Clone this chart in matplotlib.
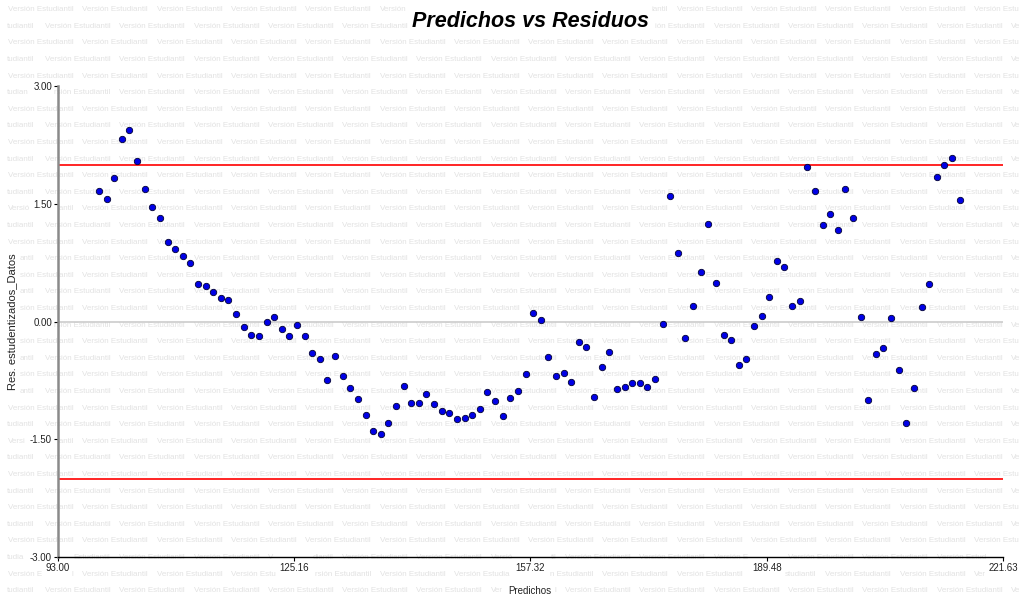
import matplotlib
matplotlib.use("Agg")
import matplotlib.pyplot as plt
from matplotlib.ticker import FixedLocator, FixedFormatter

# ---- data ----
predichos = [
    98.65, 99.68, 100.72, 101.76, 102.79, 103.83, 104.86, 105.90, 106.94, 107.97,
    109.01, 110.05, 111.08, 112.12, 113.15, 114.19, 115.23, 116.26, 117.30, 118.33,
    119.37, 120.41, 121.44, 122.48, 123.51, 124.55, 125.59, 126.62, 127.66, 128.70,
    129.73, 130.77, 131.80, 132.84, 133.88, 134.91, 135.95, 136.98, 138.02, 139.06,
    140.09, 141.13, 142.17, 143.20, 144.24, 145.27, 146.31, 147.35, 148.38, 149.42,
    150.46, 151.49, 152.53, 153.56, 154.60, 155.64, 156.67, 157.71, 158.74, 159.78,
    160.82, 161.85, 162.89, 163.93, 164.96, 166.00, 167.03, 168.07, 169.11, 170.14,
    171.18, 172.22, 173.25, 174.29, 175.32, 176.36, 177.40, 178.43, 179.47, 180.51,
    181.54, 182.58, 183.61, 184.65, 185.69, 186.72, 187.76, 188.79, 189.83, 190.87,
    191.90, 192.94, 193.98, 195.01, 196.05, 197.08, 198.12, 199.16, 200.19, 201.23,
    202.27, 203.30, 204.34, 205.37, 206.41, 207.45, 208.48, 209.52, 210.56, 211.59,
    212.63, 213.66, 214.70, 215.74,
]
residuos = [
    1.659, 1.561, 1.832, 2.325, 2.439, 2.041, 1.692, 1.459, 1.322, 1.013,
    0.927, 0.834, 0.749, 0.478, 0.456, 0.376, 0.303, 0.278, 0.096, -0.066,
    -0.168, -0.181, -0.006, 0.057, -0.096, -0.181, -0.045, -0.181, -0.405, -0.478,
    -0.741, -0.439, -0.690, -0.851, -0.987, -1.187, -1.395, -1.433, -1.289, -1.076,
    -0.825, -1.038, -1.038, -0.927, -1.051, -1.136, -1.162, -1.238, -1.223, -1.191,
    -1.115, -0.902, -1.013, -1.200, -0.977, -0.888, -0.665, 0.104, 0.019, -0.452,
    -0.690, -0.652, -0.775, -0.257, -0.329, -0.962, -0.576, -0.392, -0.864, -0.831,
    -0.787, -0.780, -0.838, -0.729, -0.032, 1.595, 0.876, -0.206, 0.201, 0.627,
    1.246, 0.490, -0.168, -0.232, -0.554, -0.478, -0.057, 0.070, 0.316, 0.775,
    0.698, 0.201, 0.265, 1.968, 1.659, 1.233, 1.373, 1.162, 1.684, 1.322,
    0.057, -1.000, -0.418, -0.341, 0.041, -0.614, -1.289, -0.851, 0.181, 0.478,
    1.841, 1.994, 2.083, 1.548,
]
x_ticks = [93.00, 125.16, 157.32, 189.48, 221.63]
x_ticklabels = ["93.00", "125.16", "157.32", "189.48", "221.63"]
y_ticks = [-3.0, -1.5, 0.0, 1.5, 3.0]
y_ticklabels = ["-3.00", "-1.50", "0.00", "1.50", "3.00"]
ref_lines = [2.0, -2.0]
title = "Predichos vs Residuos"
xlabel = "Predichos"
ylabel = "Res. estudentizados_Datos"
watermark = "Versión Estudiantil"
watermark_tail = "tudiantil"

W, H = 1023, 609
FONT = ["Liberation Sans", "DejaVu Sans"]
fig = plt.figure(figsize=(W / 100, H / 100), dpi=100)
fig.patch.set_facecolor("white")

# ---- axes ----
left, right, top, bottom = 57.5, 1003, 86, 557
ax = fig.add_axes([left / W, 1 - bottom / H, (right - left) / W, (bottom - top) / H])
ax.patch.set_alpha(0)
ax.set_zorder(1)
ax.set_xlim(x_ticks[0], x_ticks[-1])
ax.set_ylim(y_ticks[0], y_ticks[-1])

ax.axhline(0, color="#c8c8c8", lw=1.1, zorder=1)
for v in ref_lines:
    ax.axhline(v, color="#ff0000", lw=1.2, zorder=2)

ax.plot(predichos, residuos, linestyle="none", marker="o", markersize=4.6,
        markerfacecolor="#0000e6", markeredgecolor="#000033", markeredgewidth=0.6,
        zorder=3)

for s in ["top", "right"]:
    ax.spines[s].set_visible(False)
ax.spines["left"].set_color("#8a8a8a")
ax.spines["left"].set_linewidth(1.8)
ax.spines["bottom"].set_color("#000000")
ax.spines["bottom"].set_linewidth(1.0)

ax.xaxis.set_major_locator(FixedLocator(x_ticks))
ax.xaxis.set_major_formatter(FixedFormatter(x_ticklabels))
ax.yaxis.set_major_locator(FixedLocator(y_ticks))
ax.yaxis.set_major_formatter(FixedFormatter(y_ticklabels))
ax.tick_params(axis="both", labelsize=7, length=3, width=0.8, pad=1,
               colors="#000000", labelcolor="#222222")
for lab in ax.get_xticklabels() + ax.get_yticklabels():
    lab.set_family(FONT)

ax.set_xlabel(xlabel, fontsize=7, family=FONT, labelpad=10, color="#222222")
ax.set_ylabel(ylabel, fontsize=8, family=FONT, labelpad=9, color="#222222")

ttl = fig.text(530 / W, 1 - 21.5 / H, title, fontsize=15.5, fontweight="bold",
               fontstyle="italic", family=FONT,
               ha="center", va="center", color="#000000", zorder=5)

fig.canvas.draw()
renderer = fig.canvas.get_renderer()

# obstacles (texts that hide the watermark behind a white box)
obstacles = [ttl.get_window_extent(renderer).padded(3)]
for t in ax.get_xticklabels() + ax.get_yticklabels():
    if t.get_visible() and t.get_text():
        obstacles.append(t.get_window_extent(renderer).padded(2))
obstacles.append(ax.xaxis.label.get_window_extent(renderer).padded(2))
obstacles.append(ax.yaxis.label.get_window_extent(renderer).padded(2))

wm_kw = dict(fontsize=5.8, color="#e2e2e2", family=FONT, va="center", zorder=-5)


def hits(bb):
    for ob in obstacles:
        if bb.x1 > ob.x0 and bb.x0 < ob.x1 and bb.y1 > ob.y0 and bb.y0 < ob.y1:
            return ob
    return None


def place(x_px, y_px, s, ha="left"):
    """Place watermark text; trim it around obstacles and the figure edge."""
    t = fig.text(x_px / W, y_px / H, s, ha=ha, **wm_kw)
    bb = t.get_window_extent(renderer)
    x0, x1 = bb.x0, bb.x1
    ob = hits(bb)
    limit_r = W - 1
    if ob is None and x1 <= limit_r:
        return
    t.remove()
    stop = min(ob.x0 if ob is not None else limit_r, limit_r)
    for n in range(len(s) - 1, 0, -1):
        p = s[:n].rstrip()
        if not p:
            break
        tt = fig.text(x0 / W, y_px / H, p, ha="left", **wm_kw)
        b2 = tt.get_window_extent(renderer)
        if b2.x1 < stop and hits(b2) is None:
            break
        tt.remove()
    if ob is not None and x1 > ob.x1 and x1 <= limit_r:
        for n in range(1, len(s)):
            p = s[n:].lstrip()
            if not p:
                break
            tt = fig.text(x1 / W, y_px / H, p, ha="right", **wm_kw)
            b2 = tt.get_window_extent(renderer)
            if b2.x0 > ob.x1 and hits(b2) is None:
                break
            tt.remove()


# ---- watermark grid ----
row_h = 16.6
period = 74.3
y0 = 9.7
r = 0
while y0 + r * row_h < H - 3:
    yy = H - (y0 + r * row_h)
    start = 8 if r % 2 == 0 else 45
    if start - period + 64 > 14:
        place(start - period + 64, yy, watermark_tail, ha="right")
    xx = start
    while xx < W - 4:
        place(xx, yy, watermark)
        xx += period
    r += 1

fig.savefig("out.png", dpi=100, facecolor="white")
